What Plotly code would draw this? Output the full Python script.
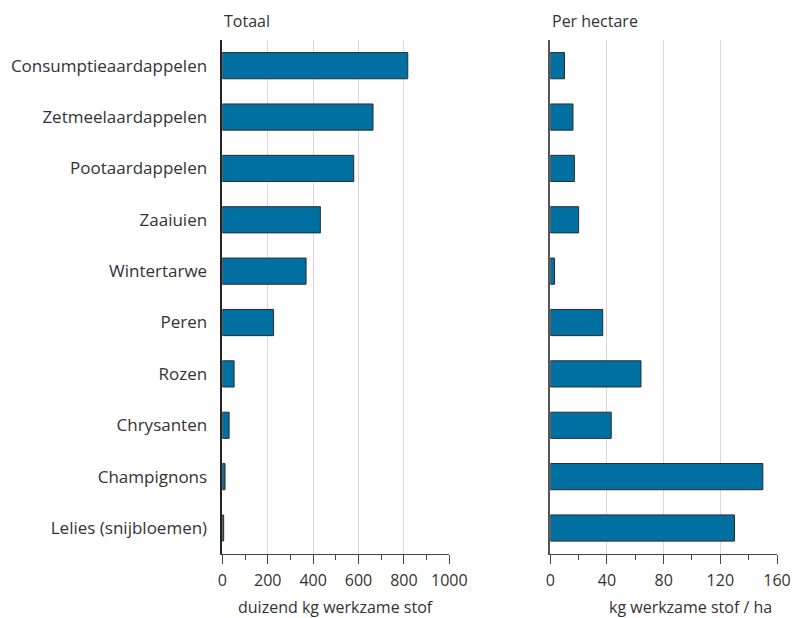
import plotly.graph_objects as go

categories = ["Consumptieaardappelen", "Zetmeelaardappelen", "Pootaardappelen", "Zaaiuien",
              "Wintertarwe", "Peren", "Rozen", "Chrysanten", "Champignons", "Lelies (snijbloemen)"]
totaal = [817, 664, 579, 432, 369, 226, 52, 30, 12, 6]
per_hectare = [10, 16, 17, 20, 3, 37, 64, 43, 150, 130]

W, H = 793, 618
FONT = "Open Sans"
BAR = "#0070a3"
EDGE = "#2b2b2b"
GRID = "#d9d9d9"
TXT = "#333"

fig = go.Figure()
fig.add_trace(go.Bar(y=categories, x=totaal, orientation="h", xaxis="x", yaxis="y",
                     marker=dict(color=BAR, line=dict(color=EDGE, width=1)), showlegend=False))
fig.add_trace(go.Bar(y=categories, x=per_hectare, orientation="h", xaxis="x2", yaxis="y2",
                     marker=dict(color=BAR, line=dict(color=EDGE, width=1)), showlegend=False))

def px(x):
    return x / W

def py(y):
    return 1 - y / H

ydom = [py(553.7), py(40)]
common_x = dict(showline=True, linecolor="#444", linewidth=1, ticks="outside", ticklen=9,
                tickcolor="#444", showgrid=True, gridcolor=GRID, gridwidth=1, zeroline=False,
                ticklabelstandoff=3, automargin=False,
                tickfont=dict(family=FONT, size=16, color=TXT), fixedrange=True)

fig.update_layout(
    width=W, height=H, margin=dict(l=0, r=0, t=0, b=0, autoexpand=False),
    paper_bgcolor="white", plot_bgcolor="white",
    font=dict(family=FONT, size=16, color=TXT),
    bargap=0.49,
    xaxis=dict(domain=[px(222.3), px(449.3)], range=[0, 1000], dtick=200, anchor="y",
               minor=dict(ticks="outside", ticklen=5, dtick=100, tickcolor="#444", showgrid=False),
               **common_x),
    xaxis2=dict(domain=[px(550.3), px(777)], range=[0, 160], dtick=40, anchor="y2",
                minor=dict(ticks="outside", ticklen=5, dtick=20, tickcolor="#444", showgrid=False),
                **common_x),
    yaxis=dict(domain=ydom, autorange="reversed", showline=True, linecolor="#222", linewidth=1.5,
               ticks="", ticklabelstandoff=10, tickfont=dict(family=FONT, size=17, color=TXT),
               showgrid=False, anchor="x", fixedrange=True, automargin=False),
    yaxis2=dict(domain=ydom, autorange="reversed", showline=True, linecolor="#555", linewidth=1.5,
                ticks="", showticklabels=False, showgrid=False, anchor="x2", fixedrange=True,
                automargin=False),
    annotations=[
        dict(text="Totaal", x=px(222), y=py(21), xref="paper", yref="paper", xanchor="left",
             yanchor="middle", showarrow=False, font=dict(family=FONT, size=16, color=TXT)),
        dict(text="Per hectare", x=px(550), y=py(21), xref="paper", yref="paper", xanchor="left",
             yanchor="middle", showarrow=False, font=dict(family=FONT, size=16, color=TXT)),
        dict(text="duizend kg werkzame stof", x=px(335.8), y=py(607), xref="paper", yref="paper",
             xanchor="center", yanchor="middle", showarrow=False, font=dict(family=FONT, size=16, color=TXT)),
        dict(text="kg werkzame stof / ha", x=px(690), y=py(607), xref="paper", yref="paper",
             xanchor="center", yanchor="middle", showarrow=False, font=dict(family=FONT, size=16, color=TXT)),
    ],
)

fig.write_html("out.html", config={"responsive": False, "displayModeBar": False},
               post_script="document.body.style.margin='0';document.body.style.overflow='hidden';")
